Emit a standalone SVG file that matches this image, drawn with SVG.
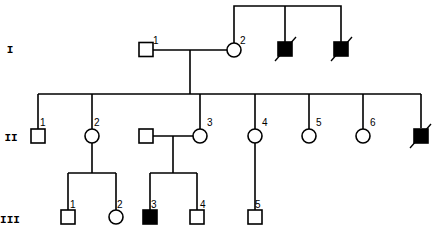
<svg xmlns="http://www.w3.org/2000/svg" width="444" height="232" viewBox="0 0 444 232">
<style>
.l{fill:none;stroke:#000;stroke-width:1.6}
.m{fill:#fff;stroke:#000;stroke-width:1.6}
.a{fill:#000;stroke:#000;stroke-width:1.6}
.s{stroke:#000;stroke-width:1.4}
.n{font-family:"Liberation Sans",Arial,sans-serif;font-size:10px;fill:#000}
.g{font-family:"Liberation Mono","Courier New",monospace;font-size:11px;font-weight:bold;fill:#000;text-anchor:middle}
</style>
<rect width="444" height="232" fill="#fff"/>
<g id="generations">
<text class="g" x="10" y="53">I</text>
<text class="g" x="11" y="141">II</text>
<text class="g" x="10" y="223">III</text>
</g>
<g id="connectors">
<path class="l" d="M153 50H227M190 50V94M38 94H421"/>
<path class="l" d="M234 43V6H341V42M285 6V42"/>
<path class="l" d="M38 94V129M92 94V129M200 94V129M255 94V129M309 94V129M363 94V129M421 94V128"/>
<path class="l" d="M153 136H193M92 143V173M68 173H116M68 173V210M116 173V210"/>
<path class="l" d="M173 136V173M150 173H197M150 173V210M197 173V210"/>
<path class="l" d="M255 143V210"/>
</g>
<g id="I-1"><rect class="m" x="139" y="42.5" width="14" height="14"/><text class="n" x="153" y="44">1</text></g>
<g id="I-2"><circle class="m" cx="234" cy="50" r="7"/><text class="n" x="240" y="44">2</text></g>
<g id="I-3"><rect class="a" x="278" y="42" width="14" height="14"/><line class="s" x1="275" y1="61" x2="296" y2="37"/></g>
<g id="I-4"><rect class="a" x="334" y="42" width="14" height="14"/><line class="s" x1="331" y1="61" x2="352" y2="37"/></g>
<g id="II-1"><rect class="m" x="31" y="129" width="14" height="14"/><text class="n" x="40" y="126">1</text></g>
<g id="II-2"><circle class="m" cx="92" cy="136" r="7"/><text class="n" x="94" y="126">2</text></g>
<g id="II-3-spouse"><rect class="m" x="139" y="129" width="14" height="14"/></g>
<g id="II-3"><circle class="m" cx="200" cy="136" r="7"/><text class="n" x="207" y="126">3</text></g>
<g id="II-4"><circle class="m" cx="255" cy="136" r="7"/><text class="n" x="262" y="126">4</text></g>
<g id="II-5"><circle class="m" cx="309" cy="136" r="7"/><text class="n" x="316" y="126">5</text></g>
<g id="II-6"><circle class="m" cx="363" cy="136" r="7"/><text class="n" x="370" y="126">6</text></g>
<g id="II-7"><rect class="a" x="414" y="129" width="14" height="14"/><line class="s" x1="410" y1="148" x2="431" y2="124"/></g>
<g id="III-1"><rect class="m" x="61" y="210" width="14" height="14"/><text class="n" x="70" y="208">1</text></g>
<g id="III-2"><circle class="m" cx="116" cy="217" r="7"/><text class="n" x="117" y="208">2</text></g>
<g id="III-3"><rect class="a" x="143" y="210" width="14" height="14"/><text class="n" x="151" y="208">3</text></g>
<g id="III-4"><rect class="m" x="190" y="210" width="14" height="14"/><text class="n" x="200" y="208">4</text></g>
<g id="III-5"><rect class="m" x="248" y="210" width="14" height="14"/><text class="n" x="255" y="208">5</text></g>
</svg>
